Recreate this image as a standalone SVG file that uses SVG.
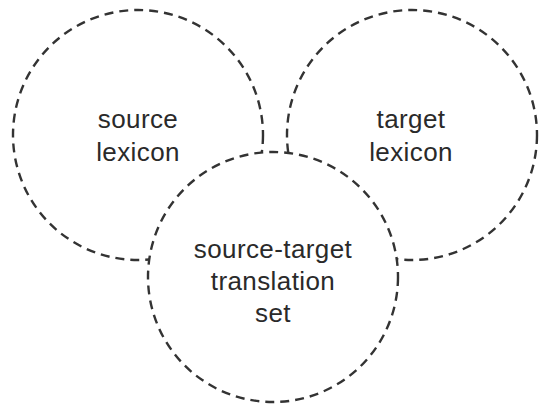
<svg xmlns="http://www.w3.org/2000/svg" width="539" height="406" viewBox="0 0 539 406">
<style>
.c{fill:#fff;stroke:#333;stroke-width:2.4;stroke-dasharray:9 6}
.t{font-family:"Liberation Sans",Arial,sans-serif;font-size:26px;letter-spacing:0.4px;fill:#2a2a2a;text-anchor:middle}
</style>
<rect width="539" height="406" fill="#fff"/>
<g id="source-lexicon">
<circle class="c" cx="138" cy="135" r="125"/>
<text class="t" x="138" y="128">source</text>
<text class="t" x="138" y="161">lexicon</text>
</g>
<g id="target-lexicon">
<circle class="c" cx="412" cy="135" r="125"/>
<text class="t" x="411" y="128">target</text>
<text class="t" x="411" y="161">lexicon</text>
</g>
<g id="translation-set">
<circle class="c" cx="273" cy="277" r="125"/>
<text class="t" x="273" y="258">source-target</text>
<text class="t" x="273" y="290">translation</text>
<text class="t" x="273" y="322">set</text>
</g>
<g id="connectors"></g>
</svg>
